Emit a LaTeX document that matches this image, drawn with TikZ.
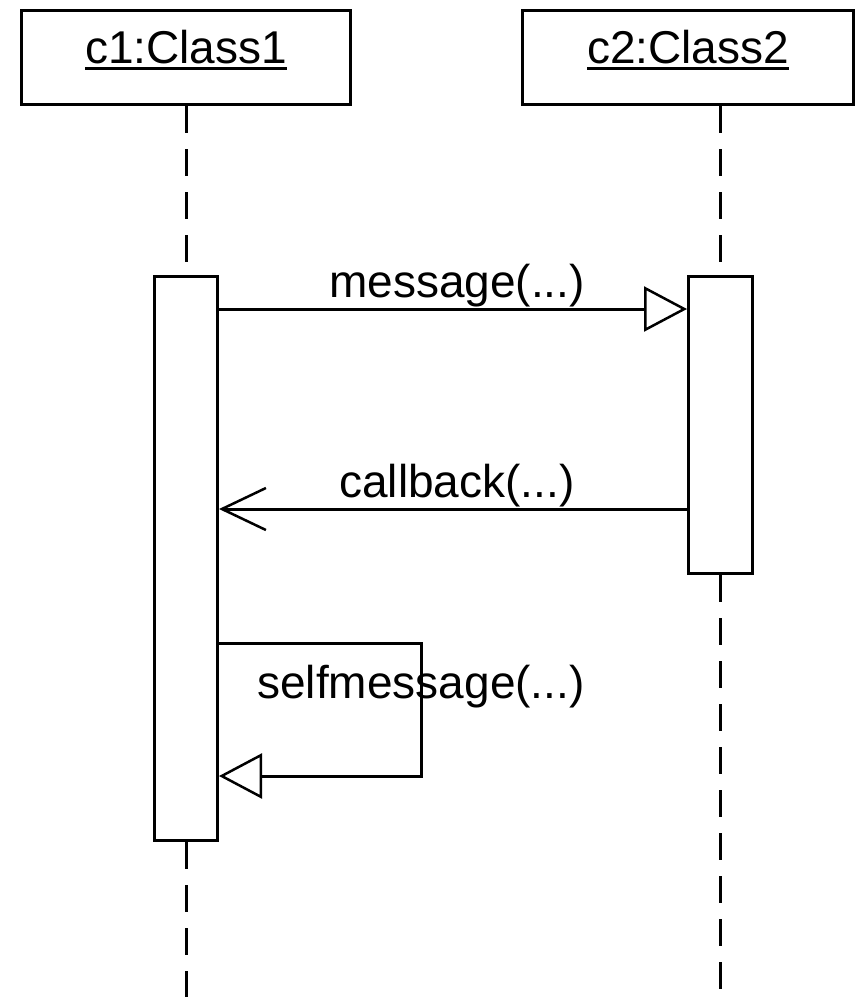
\documentclass[tikz,border=0pt]{standalone}
\usepackage{fontspec}
\setmainfont{Liberation Sans}
\usepackage{tikz}
\usetikzlibrary{arrows.meta}
\newcommand{\objname}[1]{\setbox0\hbox{#1}\rlap{\rule[-6pt]{\wd0}{2.5pt}}\box0}

\begin{document}
\begin{tikzpicture}[x=1pt,y=-1pt,line width=3pt,
  every node/.style={font=\fontsize{46}{52}\selectfont,inner sep=0pt},
  obj/.style={draw,anchor=north west,minimum width=329pt,minimum height=94pt,text height=33pt,text depth=21pt},
  act/.style={draw,fill=white,anchor=north west,minimum width=63pt},
  life/.style={dash pattern=on 27pt off 16pt},
  call/.style={-{Triangle[open,length=43pt,width=45pt,line width=2.5pt]}},
  ret/.style={-{Straight Barb[length=44pt,width=42pt,line width=2.5pt]}},
  lbl/.style={anchor=base,yshift=12pt,xshift=4pt}]
\useasboundingbox (0,0) rectangle (856,997);
\node[obj] (o1) at (20,9) {\objname{c1:Class1}};
\node[obj,minimum width=331pt] (o2) at (521,9) {\objname{c2:Class2}};
\node[act,minimum height=564pt] (a1) at (153,275) {};
\node[act,minimum width=64pt,minimum height=297pt] (a2) at (687,275) {};
\coordinate (e1) at (a1.south |- 0,997);
\coordinate (e2) at (a2.south |- 0,997);
\draw[life] (o1.south) -- (a1.north);
\draw[life] (a1.south) -- (e1);
\draw[life] (o2.south -| a2.north) -- (a2.north);
\draw[life] (a2.south) -- (e2);
\draw[call] ([yshift=-34pt]a1.north east) -- ([yshift=-34pt]a2.north west)
  node[lbl,midway] {message(...)};
\draw[ret] ([yshift=-234pt]a2.north west) -- ([yshift=-234pt]a1.north east)
  node[lbl,midway] {callback(...)};
\draw[call] ([yshift=-368pt]a1.north east) -- ++(202,0)
  node[anchor=base,yshift=-55pt] {selfmessage(...)} -- ++(0,133)
  -- ([yshift=-501pt]a1.north east);
\end{tikzpicture}
\end{document}
